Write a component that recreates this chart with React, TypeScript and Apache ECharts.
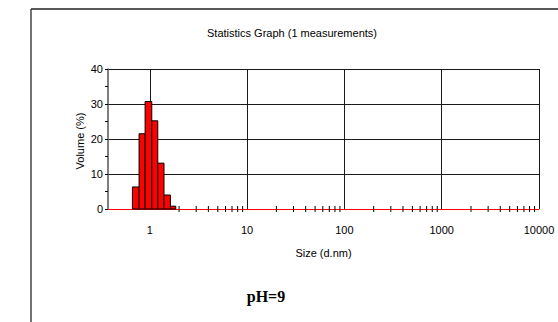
import React, { useEffect, useRef } from "react";
import * as echarts from "echarts";

// Size distribution by volume (bin edges in d.nm, volume in %)
const binLower = [0.663, 0.776, 0.895, 1.048, 1.208, 1.4, 1.63];
const binUpper = [0.776, 0.895, 1.048, 1.208, 1.4, 1.63, 1.85];
const volume = [6.3, 21.5, 30.7, 25.2, 13.1, 4.0, 0.8];

// Decade gridlines / labels and the minor log ticks between them
const decadeTicks = [1, 10, 100, 1000, 10000];
const minorTicks = [
  2, 3, 4, 5, 6, 7, 8, 9,
  20, 30, 40, 50, 60, 70, 80, 90,
  200, 300, 400, 500, 600, 700, 800, 900,
  2000, 3000, 4000, 5000, 6000, 7000, 8000, 9000,
];
const sizeMin = 0.372;
const sizeMax = 10000;

const titleText = "Statistics Graph (1 measurements)";
const xName = "Size (d.nm)";
const yName = "Volume (%)";
const caption = "pH=9";

const FONT = "Liberation Sans, Arial, sans-serif";

export default function App() {
  const ref = useRef<HTMLDivElement>(null);

  useEffect(() => {
    if (!ref.current) return;
    const chart = echarts.init(ref.current, undefined, { renderer: "svg" });

    const barData = binLower.map((lo, i) => [
      Math.log10(lo),
      Math.log10(binUpper[i]),
      volume[i],
    ]);
    const minorData = minorTicks.map((v) => [Math.log10(v), 0]);

    chart.setOption({
      animation: false,
      backgroundColor: "#ffffff",
      grid: {
        left: 108,
        right: 19,
        top: 69,
        bottom: 113,
        containLabel: false,
        outerBoundsMode: "none",
      },
      xAxis: {
        type: "value",
        min: Math.log10(sizeMin),
        max: Math.log10(sizeMax),
        name: xName,
        nameLocation: "middle",
        nameGap: 38,
        nameTextStyle: { color: "#000", fontFamily: FONT, fontSize: 11 },
        axisLine: { show: true, onZero: false, lineStyle: { color: "#ff0000", width: 1 } },
        axisTick: {
          show: false,
          customValues: decadeTicks.map((v) => Math.log10(v)),
        },
        axisLabel: {
          show: true,
          customValues: decadeTicks.map((v) => Math.log10(v)),
          formatter: (v: number) => String(Math.round(Math.pow(10, v))),
          color: "#000",
          fontFamily: FONT,
          fontSize: 11,
          margin: 15,
        },
        splitLine: { show: true, lineStyle: { color: "#1a1a1a", width: 1 } },
      },
      yAxis: {
        type: "value",
        min: 0,
        max: 40,
        interval: 10,
        axisLine: { show: true, onZero: false, lineStyle: { color: "#555", width: 1.5 } },
        axisTick: { show: true, length: 3, lineStyle: { color: "#000" } },
        minorTick: { show: true, splitNumber: 2, length: 3, lineStyle: { color: "#000" } },
        axisLabel: {
          color: "#000",
          fontFamily: FONT,
          fontSize: 11,
          margin: 5,
        },
        splitLine: { show: true, lineStyle: { color: "#1a1a1a", width: 1 } },
      },
      graphic: [
        {
          type: "line",
          shape: { x1: 31, y1: 9, x2: 558, y2: 9 },
          style: { stroke: "#222", lineWidth: 1.5 },
          silent: true,
        },
        {
          type: "line",
          shape: { x1: 31, y1: 9, x2: 31, y2: 322 },
          style: { stroke: "#444", lineWidth: 1.5 },
          silent: true,
        },
        {
          type: "text",
          x: 292,
          y: 33,
          style: {
            text: titleText,
            fill: "#000",
            font: `11px ${FONT}`,
            textAlign: "center",
            textVerticalAlign: "middle",
          },
          silent: true,
        },
        {
          type: "text",
          x: 80,
          y: 141,
          rotation: Math.PI / 2,
          style: {
            text: yName,
            fill: "#000",
            font: `11px ${FONT}`,
            textAlign: "center",
            textVerticalAlign: "middle",
          },
          silent: true,
        },
        {
          type: "text",
          x: 266,
          y: 296,
          style: {
            text: caption,
            fill: "#000",
            font: `bold 16px "Liberation Serif", "Times New Roman", serif`,
            textAlign: "center",
            textVerticalAlign: "middle",
          },
          silent: true,
        },
      ],
      series: [
        {
          type: "custom",
          name: "Volume",
          data: barData,
          encode: { x: [0, 1], y: 2 },
          z: 3,
          renderItem: (_params: any, api: any) => {
            const p0 = api.coord([api.value(0), 0]);
            const p1 = api.coord([api.value(1), api.value(2)]);
            return {
              type: "rect",
              shape: {
                x: p0[0],
                y: p1[1],
                width: p1[0] - p0[0],
                height: p0[1] - p1[1],
              },
              style: { fill: "#ff0000", stroke: "#000", lineWidth: 1 },
            };
          },
        },
        {
          type: "custom",
          name: "minor ticks",
          data: minorData,
          encode: { x: 0, y: 1 },
          z: 4,
          silent: true,
          renderItem: (_params: any, api: any) => {
            const p = api.coord([api.value(0), api.value(1)]);
            return {
              type: "line",
              shape: { x1: p[0], y1: p[1] - 3, x2: p[0], y2: p[1] + 3 },
              style: { stroke: "#000", lineWidth: 1 },
            };
          },
        },
      ],
    });

    return () => chart.dispose();
  }, []);

  return (
    <div
      ref={ref}
      style={{ position: "fixed", left: 0, top: 0, width: 558, height: 322 }}
    />
  );
}
